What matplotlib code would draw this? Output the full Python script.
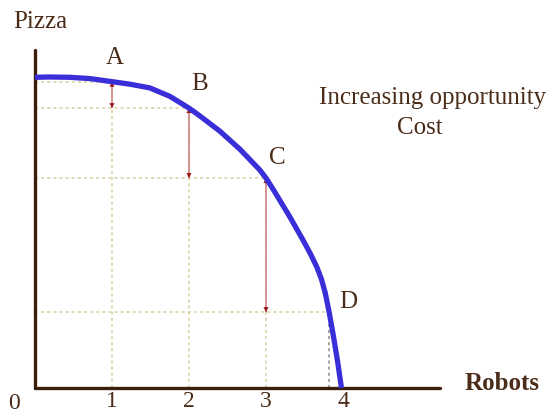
import matplotlib
matplotlib.use("Agg")
import matplotlib.pyplot as plt

# Production possibilities frontier (robots vs pizza)
frontier_robots = [0, 0.19, 0.45, 0.71, 1.0, 1.23, 1.49, 1.75, 2.0, 2.14, 2.40,
                   2.66, 2.92, 3.0, 3.09, 3.31, 3.48, 3.58, 3.66, 3.72, 3.77,
                   3.82, 3.87, 3.93, 3.98]
frontier_pizza = [99.9, 100, 99.9, 99.5, 98.5, 97.7, 96.5, 93.8, 90.0, 87.5, 82.6,
                  76.8, 70.1, 67.5, 64.0, 55.0, 47.6, 43.0, 38.9, 35.0, 30.5,
                  24.4, 17.5, 8.5, 0]

# Labelled points on the frontier
point_names = ["A", "B", "C", "D"]
point_robots = [1, 2, 3, 3.82]
point_pizza = [98.5, 90.0, 67.5, 24.4]

tick_values = [1, 2, 3, 4]

TEXT = "#4a2c18"
AXIS = "#3b1e0c"
GRID = "#d8cfa0"
CURVE = "#3a2ed8"
HEAD = "#9b1515"
SHAFT = "#cf8c8c"
FS = 18
TICK_FS = 17

plt.rcParams["font.family"] = ["Liberation Serif", "DejaVu Serif"]

W, H = 550, 415
fig = plt.figure(figsize=(W / 100, H / 100), dpi=100)
fig.patch.set_facecolor("white")

# axes box in pixels: origin at (35, 388), top at y=50, right end at x=440
px_per_robot = 77.0
px_per_pizza = 3.11
left, right, top, bottom = 35, 440, 50, 388
ax = fig.add_axes([left / W, (H - bottom) / H, (right - left) / W, (bottom - top) / H])
ax.set_xlim(0, (right - left) / px_per_robot)
ax.set_ylim(0, (bottom - top) / px_per_pizza)

for s in ["top", "right"]:
    ax.spines[s].set_visible(False)
for s in ["left", "bottom"]:
    ax.spines[s].set_color(AXIS)
    ax.spines[s].set_linewidth(2.4)
    ax.spines[s].set_capstyle("round")
ax.set_yticks([])
ax.set_xticks(tick_values)
ax.set_xticklabels([str(v) for v in tick_values])
ax.tick_params(axis="x", length=0, pad=2, labelsize=TICK_FS, labelcolor=TEXT)

# guide lines from each point back to the axes
for i, (x, y) in enumerate(zip(point_robots, point_pizza)):
    ax.plot([0, x], [y, y], ls=(0, (2, 2)), color=GRID, lw=1.1, zorder=1)
    vcol = "#8a8a8a" if i == len(point_names) - 1 else GRID
    ax.plot([x, x], [0, y], ls=(0, (2, 2)), color=vcol, lw=1.1, zorder=1)

# opportunity cost arrows between successive points
for i in range(len(point_robots) - 1):
    x = point_robots[i]
    ax.vlines(x, point_pizza[i + 1], point_pizza[i], color=SHAFT, lw=1.3, zorder=2)
    ax.annotate("", xy=(x, point_pizza[i + 1]), xytext=(x, point_pizza[i]),
                arrowprops=dict(arrowstyle="<|-|>", color=HEAD, lw=0,
                                mutation_scale=9, shrinkA=0, shrinkB=0),
                zorder=2)

ax.plot(frontier_robots, frontier_pizza, color=CURVE, lw=3.8,
        solid_capstyle="butt", solid_joinstyle="round", zorder=3, clip_on=False)

offsets = [(3, 24), (11, 24), (11, 20), (19, 10)]
for name, x, y, off in zip(point_names, point_robots, point_pizza, offsets):
    ax.annotate(name, xy=(x, y), xytext=off, textcoords="offset pixels",
                ha="center", va="center", fontsize=FS, color=TEXT)

fig.text(14 / W, 1 - 403 / H, "0", ha="center", va="center", fontsize=TICK_FS, color=TEXT)
fig.text(40 / W, 1 - 22 / H, "Pizza", ha="center", va="center", fontsize=FS, color=TEXT)
fig.text(502 / W, 1 - 383 / H, "Robots", ha="center", va="center", fontsize=FS,
         fontweight="bold", color=TEXT)
fig.text(433 / W, 1 - 98 / H, "Increasing opportunity", ha="center", va="center",
         fontsize=FS, color=TEXT)
fig.text(420 / W, 1 - 128 / H, "Cost", ha="center", va="center", fontsize=FS, color=TEXT)

fig.savefig("out.png", dpi=100, facecolor="white")
